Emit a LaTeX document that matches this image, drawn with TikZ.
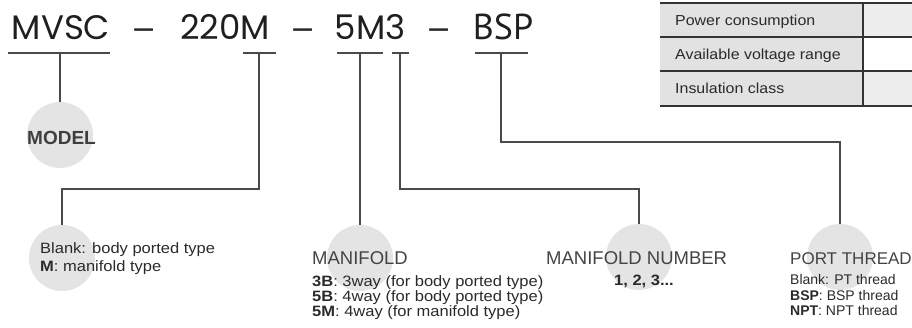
\documentclass[tikz,border=0pt]{standalone}
\usepackage{fontspec}
\setmainfont{Liberation Sans}
\newfontfamily\topfont{Poppins}
\newfontfamily\bspfont{PT Sans}
\newfontfamily\dashfont{DejaVu Sans}
\newfontfamily\smallfont[FakeStretch=1.1]{Liberation Sans}
\definecolor{linec}{HTML}{4A4A4A}
\definecolor{circc}{HTML}{E4E4E4}
\definecolor{titlec}{HTML}{444444}
\definecolor{textc}{HTML}{2A2A2A}
\definecolor{cellc}{HTML}{E2E2E2}
\definecolor{cellr}{HTML}{EDEDED}
\tikzset{
  code/.style={anchor=base, inner sep=0pt, text=black!88, font=\topfont\fontsize{34}{34}\selectfont},
  dashsym/.style={anchor=base, inner sep=0pt, text=black!85, font=\dashfont\fontsize{30}{30}\selectfont},
  bspcode/.style={anchor=base, inner sep=0pt, text=black!88, font=\bspfont\fontsize{36}{36}\selectfont},
  uline/.style={draw=linec, line width=1.6pt},
  conn/.style={draw=linec, line width=1.6pt},
  bubble/.style={circle, fill=circc, minimum size=66pt, inner sep=0pt},
  title/.style={anchor=base west, inner sep=0pt, text=titlec, font=\fontsize{18.5}{18.5}\selectfont},
  small/.style={anchor=base west, inner sep=0pt, text=textc, font=\smallfont\fontsize{15}{15}\selectfont},
  portsmall/.style={anchor=base west, inner sep=0pt, text=textc, font=\fontsize{14}{14}\selectfont},
  cell/.style={anchor=base west, inner sep=0pt, text=textc, font=\smallfont\fontsize{14.5}{14.5}\selectfont},
  tline/.style={draw=black!80, line width=1.8pt}
}
\begin{document}
\begin{tikzpicture}[x=1pt,y=-1pt]
\useasboundingbox (0,0) rectangle (912,327);

% table
\fill[cellc] (660,3) rectangle (863,106);
\fill[cellr] (863,3) rectangle (914,37);
\fill[white] (863,37) rectangle (914,71);
\fill[cellr] (863,71) rectangle (914,106);
\draw[tline] (660,3) -- (914,3);
\draw[tline] (660,37) -- (914,37);
\draw[tline] (660,71) -- (914,71);
\draw[tline] (660,106) -- (914,106);
\draw[tline] (863,3) -- (863,106);
\node[cell] (t1) at (675,25) {Power consumption};
\node[cell] (t2) at (675,59) {Available voltage range};
\node[cell] (t3) at (675,93) {Insulation class};

% code
\node[code] (k1) at (61,39) {MVSC};
\node[dashsym] (d1) at (144.5,39) {−};
\node[code] (k2) at (225,39) {220M};
\node[dashsym] (d2) at (303.5,39) {−};
\node[code] (k3) at (370,39) {5M3};
\node[dashsym] (d3) at (439,39) {−};
\node[bspcode] (k4) at (503,39) {BSP};

% underlines
\draw[uline] (8,53) -- (110,53);
\draw[uline] (243,53) -- (276,53);
\draw[uline] (337,53) -- (383,53);
\draw[uline] (392,53) -- (409,53);
\draw[uline] (475,53) -- (528,53);
\coordinate (u1) at (60,53);
\coordinate (u2) at (259,53);
\coordinate (u3) at (360,53);
\coordinate (u4) at (400,53);
\coordinate (u5) at (501,53);

% bubbles
\node[bubble] (c1) at (60,135) {};
\node[bubble] (c2) at (62,258) {};
\node[bubble] (c3) at (360,258) {};
\node[bubble] (c4) at (639,257) {};
\node[bubble] (c5) at (840,257) {};

% connectors
\draw[conn] (u1) -- (c1.north);
\draw[conn] (u2) -- ++(0,136) -| (c2.north);
\draw[conn] (u3) -- (c3.north);
\draw[conn] (u4) -- ++(0,136) -| (c4.north);
\draw[conn] (u5) -- ++(0,89) -| (c5.north);

% texts
\node[title, font=\bfseries\fontsize{19}{19}\selectfont, text=textc!90] (m1) at (27,144) {MODEL};

\node[small] (a1) at (40,253) {Blank: body ported type};
\node[small] (a2) at (40,271) {\textbf{M}: manifold type};

\node[title] (b0) at (312,264) {MANIFOLD};
\node[small] (b1) at (312,286) {\textbf{3B}: 3way (for body ported type)};
\node[small] (b2) at (312,301) {\textbf{5B}: 4way (for body ported type)};
\node[small] (b3) at (312,316) {\textbf{5M}: 4way (for manifold type)};

\node[title] (n0) at (546,264) {MANIFOLD NUMBER};
\node[small, anchor=base] (n1) at (644,285) {\textbf{1, 2, 3...}};

\node[title, font=\fontsize{17}{17}\selectfont] (p0) at (790,264) {PORT THREAD};
\node[portsmall] (p1) at (790,284) {Blank: PT thread};
\node[portsmall] (p2) at (790,300) {\textbf{BSP}: BSP thread};
\node[portsmall] (p3) at (790,315) {\textbf{NPT}: NPT thread};
\end{tikzpicture}
\end{document}
